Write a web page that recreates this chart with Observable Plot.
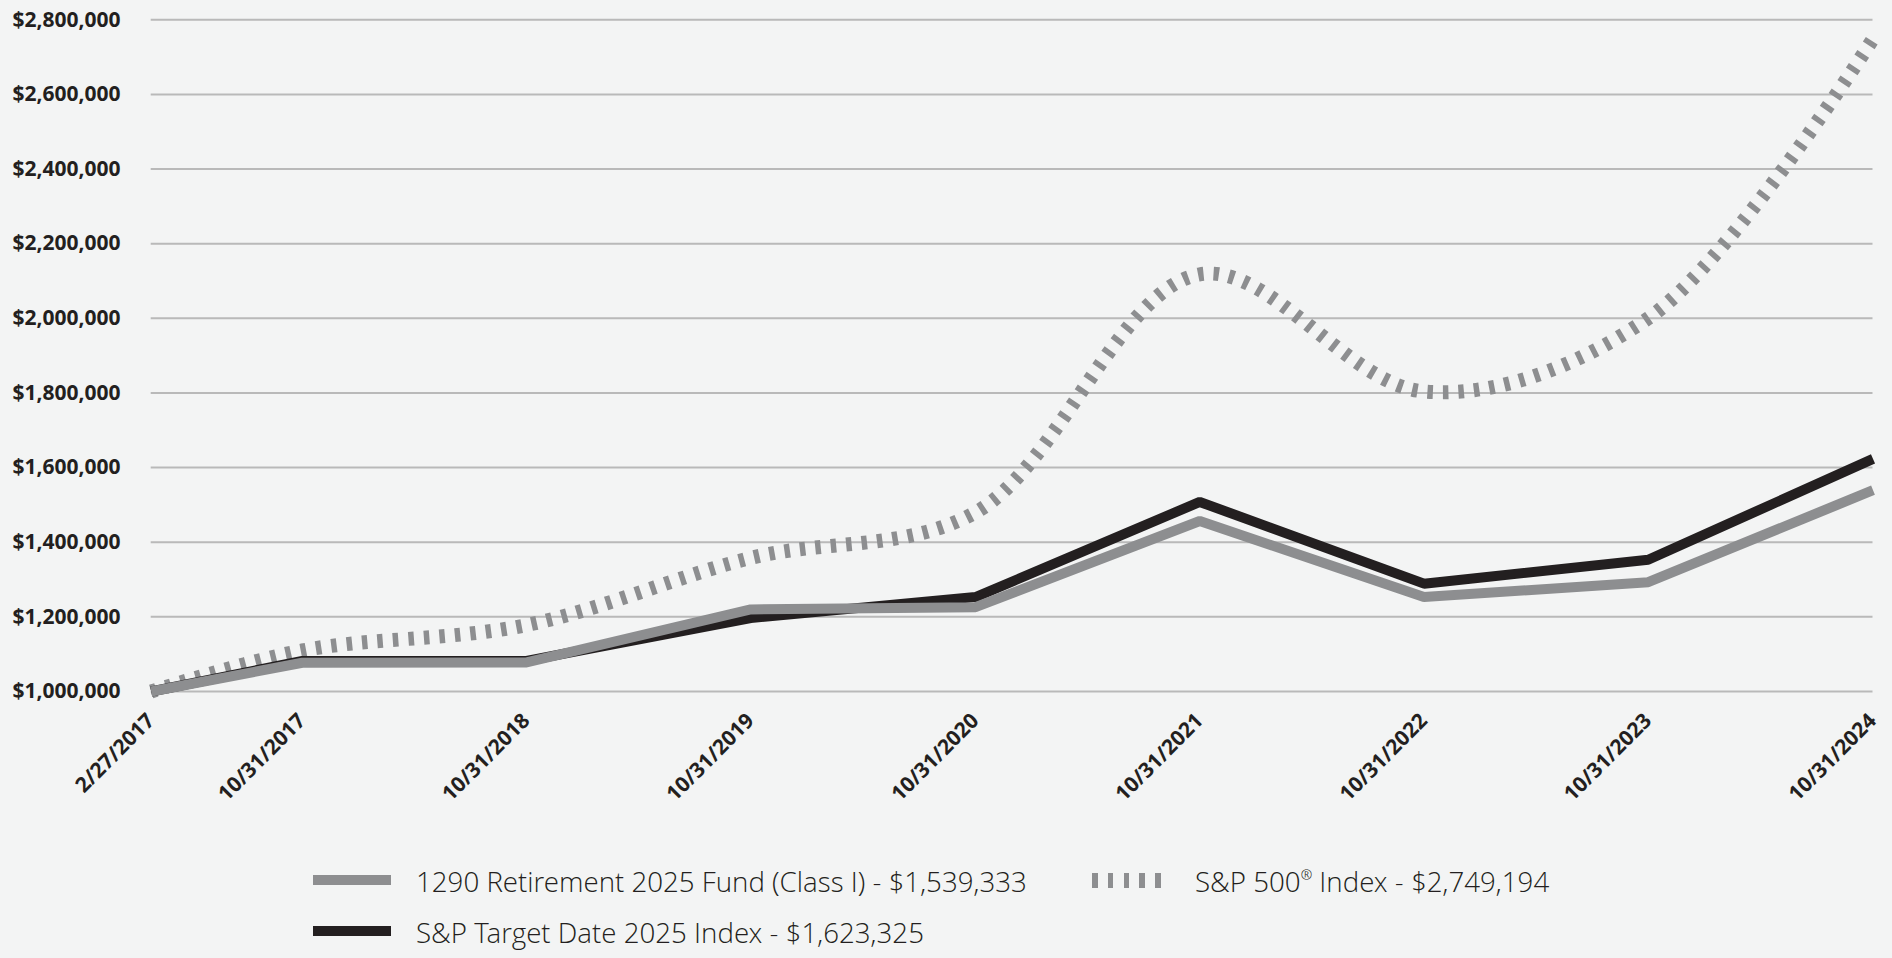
<!DOCTYPE html>
<html>
<head>
<meta charset="utf-8">
<script src="https://cdn.jsdelivr.net/npm/d3@7"></script>
<script src="https://cdn.jsdelivr.net/npm/@observablehq/plot@0.6"></script>
<style>
  html, body { margin: 0; padding: 0; background: #f3f4f4; }
  #chart { width: 1892px; height: 850px; }
  #legend { position: relative; width: 1892px; height: 108px; font-family: "Open Sans Light", "Open Sans", sans-serif; font-weight: 300; color: #231f20; }
  #legend .sw { position: absolute; }
  #legend .lbl { position: absolute; font-size: 27.7px; line-height: 40px; white-space: nowrap; }
  #legend sup { font-size: 0.5em; vertical-align: 0.9em; line-height: 0; }
</style>
</head>
<body>
<div id="chart"></div>
<div id="legend"></div>
<script>
// ---- data ----
const dates = ["2017-02-27", "2017-10-31", "2018-10-31", "2019-10-31", "2020-10-31", "2021-10-31", "2022-10-31", "2023-10-31", "2024-10-31"];
const tickLabels = ["2/27/2017", "10/31/2017", "10/31/2018", "10/31/2019", "10/31/2020", "10/31/2021", "10/31/2022", "10/31/2023", "10/31/2024"];
const fund = [1000000, 1077000, 1078000, 1220000, 1226000, 1457000, 1253000, 1293000, 1539333];
const target = [1000000, 1082000, 1082000, 1197000, 1253000, 1508000, 1289000, 1353000, 1623325];
const sp500 = [1000000, 1110000, 1178000, 1358000, 1480000, 2118000, 1804000, 2000000, 2749194];
const yTicks = [1000000, 1200000, 1400000, 1600000, 1800000, 2000000, 2200000, 2400000, 2600000, 2800000];
const seriesNames = ["1290 Retirement 2025 Fund (Class I) - $1,539,333", "S&P Target Date 2025 Index - $1,623,325", "S&P 500® Index - $2,749,194"];

const parsed = dates.map(d => new Date(d + "T00:00:00Z"));
const toRows = vals => vals.map((v, i) => ({date: parsed[i], value: v}));

const GRAY = "#8d8e90", BLACK = "#231f20";

const chart = Plot.plot({
  width: 1892,
  height: 850,
  marginTop: 19.3,
  marginBottom: 159,
  marginLeft: 150.7,
  marginRight: 19.5,
  style: {background: "transparent", fontFamily: "'Open Sans', sans-serif", color: BLACK},
  x: {type: "utc", domain: [parsed[0], parsed[parsed.length - 1]], axis: null},
  y: {domain: [1000000, 2800000]},
  marks: [
    Plot.gridY(yTicks, {stroke: "#b9b9b9", strokeOpacity: 1, strokeWidth: 2}),
    Plot.axisY(yTicks, {tickSize: 0, tickPadding: 30.7, tickFormat: d => "$" + d3.format(",")(d), fontSize: 21, fontWeight: 700, fill: BLACK, label: null}),
    Plot.text(parsed, {x: d => d, frameAnchor: "bottom", text: (d, i) => tickLabels[i], rotate: -45, textAnchor: "end", lineAnchor: "top", dy: 20, dx: -6, fontSize: 21, fontWeight: 700, fill: BLACK}),
    Plot.line(toRows(sp500), {x: "date", y: "value", stroke: GRAY, strokeWidth: 14, strokeDasharray: "5.5 10", strokeLinecap: "butt", curve: "catmull-rom"}),
    Plot.line(toRows(target), {x: "date", y: "value", stroke: BLACK, strokeWidth: 10, strokeLinecap: "butt", strokeLinejoin: "miter"}),
    Plot.line(toRows(fund), {x: "date", y: "value", stroke: GRAY, strokeWidth: 10, strokeLinecap: "butt", strokeLinejoin: "miter"})
  ]
});
document.getElementById("chart").appendChild(chart);

// ---- legend ----
const legend = document.getElementById("legend");
function addSwatch(left, top, kind, color) {
  const s = document.createElement("div");
  s.className = "sw";
  s.style.left = left + "px";
  s.style.top = top + "px";
  s.style.width = "78px";
  s.style.height = kind === "dash" ? "15px" : "10px";
  if (kind === "dash") {
    s.style.width = "70px";
    s.style.background = `repeating-linear-gradient(to right, ${color} 0 5.5px, transparent 5.5px 15.8px)`;
  } else {
    s.style.background = color;
  }
  legend.appendChild(s);
}
function addLabel(left, top, html) {
  const t = document.createElement("div");
  t.className = "lbl";
  t.style.left = left + "px";
  t.style.top = top + "px";
  t.innerHTML = html;
  legend.appendChild(t);
}
addSwatch(313, 25, "solid", GRAY);
addLabel(416, 10.9, seriesNames[0]);
addSwatch(1092, 22.5, "dash", GRAY);
addLabel(1195, 10.9, seriesNames[2].replace("&", "&amp;").replace("®", "<sup>®</sup>"));
addSwatch(313, 76, "solid", BLACK);
addLabel(416, 61.9, seriesNames[1].replace("&", "&amp;"));
</script>
</body>
</html>
